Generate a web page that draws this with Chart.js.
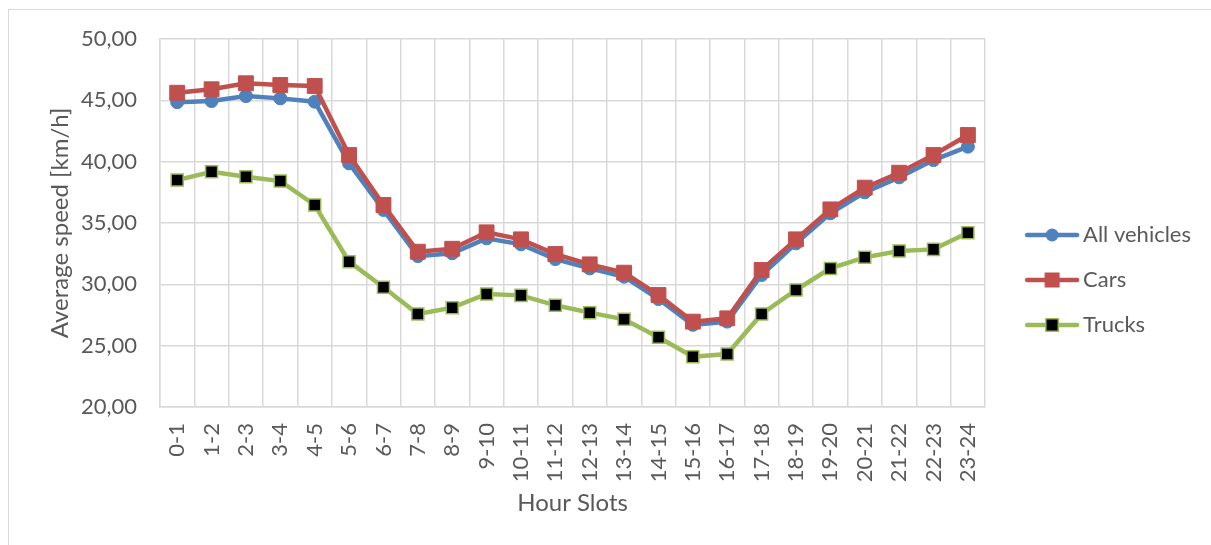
<!DOCTYPE html>
<html>
<head>
<meta charset="utf-8">
<script src="https://cdn.jsdelivr.net/npm/chart.js@4"></script>
<style>
  body { margin: 0; background: #fff; overflow: hidden; }
  #wrap { position: relative; width: 1211px; height: 545px; }
  #frame { position: absolute; left: 8px; top: 9px; width: 1300px; height: 700px; border: 1px solid #d9d9d9; }
  #speed-chart { position: absolute; left: 0; top: 0; }
</style>
</head>
<body>
<div id="wrap">
  <div id="frame"></div>
  <canvas id="speed-chart" width="1211" height="545"></canvas>
</div>
<script>
const hourSlots = [
  "0-1", "1-2", "2-3", "3-4", "4-5", "5-6", "6-7", "7-8", "8-9", "9-10", "10-11", "11-12",
  "12-13", "13-14", "14-15", "15-16", "16-17", "17-18", "18-19", "19-20", "20-21", "21-22", "22-23", "23-24",
];
const allVehicles = [
  44.85, 44.94, 45.35, 45.16, 44.89, 39.86, 36.06, 32.30, 32.53, 33.75, 33.26, 32.06,
  31.30, 30.62, 28.80, 26.70, 26.96, 30.76, 33.34, 35.79, 37.50, 38.72, 40.13, 41.22,
];
const cars = [
  45.62, 45.90, 46.39, 46.25, 46.17, 40.54, 36.47, 32.66, 32.90, 34.24, 33.67, 32.47,
  31.63, 30.95, 29.13, 26.96, 27.23, 31.17, 33.67, 36.11, 37.88, 39.10, 40.54, 42.17,
];
const trucks = [
  38.50, 39.18, 38.77, 38.42, 36.47, 31.85, 29.76, 27.58, 28.10, 29.21, 29.10, 28.29,
  27.69, 27.15, 25.68, 24.10, 24.32, 27.58, 29.54, 31.30, 32.20, 32.72, 32.85, 34.20,
];
const yMin = 20;
const yMax = 50;
const yStep = 5;

const BLUE = "#4f81bd";
const RED = "#c0504d";
const GREEN = "#9bbb59";
const TEXT = "#595959";
const GRID = "#d9d9d9";

// small line + marker picture for each legend entry
function legendIcon(color, shape) {
  const c = document.createElement("canvas");
  c.width = 56;
  c.height = 22;
  const g = c.getContext("2d");
  g.strokeStyle = color;
  g.lineWidth = 4.5;
  g.lineCap = "round";
  g.beginPath();
  g.moveTo(3, 11);
  g.lineTo(53, 11);
  g.stroke();
  if (shape === "circle") {
    g.fillStyle = color;
    g.beginPath();
    g.arc(28, 11, 6.5, 0, Math.PI * 2);
    g.fill();
  } else if (shape === "square") {
    g.fillStyle = color;
    g.fillRect(28 - 7.5, 11 - 7.5, 15, 15);
  } else {
    g.fillStyle = color;
    g.fillRect(28 - 7, 11 - 7, 14, 14);
    g.fillStyle = "#000";
    g.fillRect(28 - 5.5, 11 - 5.5, 11, 11);
  }
  return c;
}

function draw() {
  Chart.defaults.font.family = "Lato";
  Chart.defaults.font.size = 22;
  Chart.defaults.color = TEXT;

  const icons = [legendIcon(BLUE, "circle"), legendIcon(RED, "square"), legendIcon(GREEN, "truck")];

  new Chart(document.getElementById("speed-chart"), {
    type: "line",
    data: {
      labels: hourSlots,
      datasets: [
        {
          label: "All vehicles",
          data: allVehicles,
          order: 2,
          borderColor: BLUE,
          backgroundColor: BLUE,
          borderWidth: 4.5,
          pointStyle: "circle",
          pointRadius: 6.5,
          pointBorderWidth: 1,
          pointBackgroundColor: BLUE,
          pointBorderColor: BLUE,
        },
        {
          label: "Cars",
          data: cars,
          order: 1,
          borderColor: RED,
          backgroundColor: RED,
          borderWidth: 4.5,
          pointStyle: "rect",
          pointRadius: 10.5,
          pointBorderWidth: 1,
          pointBackgroundColor: RED,
          pointBorderColor: RED,
        },
        {
          label: "Trucks",
          data: trucks,
          order: 0,
          borderColor: GREEN,
          backgroundColor: GREEN,
          borderWidth: 4.5,
          pointStyle: "rect",
          pointRadius: 8.5,
          pointBorderWidth: 1.5,
          pointBackgroundColor: "#000",
          pointBorderColor: GREEN,
        },
      ],
    },
    options: {
      responsive: false,
      animation: false,
      events: [],
      layout: {
        padding: { left: 40, right: 10, top: 39, bottom: 24 },
      },
      elements: {
        line: { tension: 0 },
      },
      plugins: {
        tooltip: { enabled: false },
        legend: {
          position: "right",
          labels: {
            usePointStyle: true,
            pointStyleWidth: 40,
            padding: 23,
            color: TEXT,
            font: { size: 22 },
            generateLabels: (chart) =>
              chart.data.datasets.map((ds, i) => ({
                text: ds.label,
                pointStyle: icons[i],
                fontColor: TEXT,
                datasetIndex: i,
                hidden: false,
                lineWidth: 0,
                strokeStyle: "transparent",
                fillStyle: "transparent",
              })),
          },
        },
      },
      scales: {
        x: {
          type: "category",
          offset: true,
          grid: { offset: true, color: GRID, lineWidth: 1.5, drawTicks: false },
          border: { color: GRID, width: 1.5 },
          ticks: { minRotation: 90, maxRotation: 90, autoSkip: false, padding: 16, color: TEXT },
          title: { display: true, text: "Hour Slots", color: TEXT, font: { size: 24 }, padding: { top: 4, bottom: 3.6 } },
          afterFit: (s) => { s.height = 114; },
        },
        y: {
          min: yMin,
          max: yMax,
          grid: { color: GRID, lineWidth: 1.5, drawTicks: true, tickLength: 18, tickColor: "rgba(0,0,0,0)" },
          border: { color: GRID, width: 1.5 },
          ticks: {
            stepSize: yStep,
            padding: 5,
            color: TEXT,
            callback: (v) => v.toFixed(2).replace(".", ","),
          },
          title: { display: true, text: "Average speed [km/h]", color: TEXT, font: { size: 24 }, padding: { top: 5.6, bottom: 4 } },
          afterFit: (s) => { s.width = 120; },
        },
        gap: {
          position: "right",
          display: true,
          grid: { display: false },
          border: { display: false },
          ticks: { display: false },
          afterFit: (s) => { s.width = 24; },
        },
      },
    },
  });
}

if (document.fonts && document.fonts.load) {
  document.fonts.load("22px Lato").then(draw, draw);
} else {
  draw();
}
</script>
</body>
</html>
